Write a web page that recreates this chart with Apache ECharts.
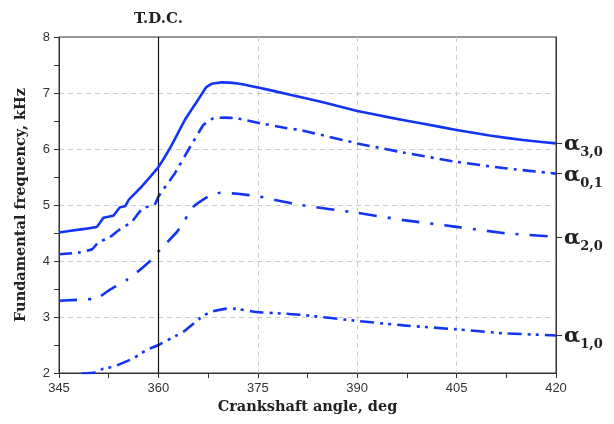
<!DOCTYPE html>
<html>
<head>
<meta charset="utf-8">
<script src="https://cdn.jsdelivr.net/npm/echarts@6/dist/echarts.min.js"></script>
<style>
  html, body { margin: 0; padding: 0; background: #fff; }
  #chart { width: 614px; height: 424px; }
</style>
</head>
<body>
<div id="chart"></div>
<script>
// crankshaft angle (deg) / fundamental frequency (kHz) for each mode
const a30Angle = [345, 348, 350.7, 351.7, 353.2, 354.2, 355, 355.5, 357, 358, 360, 362, 364, 366, 367.2, 368, 369.5, 372, 375, 378, 381.4, 385, 390, 395, 400, 405, 410, 415, 420];
const a30Freq = [4.51, 4.56, 4.61, 4.77, 4.81, 4.96, 4.98, 5.09, 5.27, 5.40, 5.68, 6.07, 6.52, 6.88, 7.10, 7.16, 7.19, 7.17, 7.10, 7.02, 6.93, 6.83, 6.68, 6.56, 6.45, 6.34, 6.24, 6.16, 6.10];

const a01Angle = [345, 348, 350, 351, 352.5, 354, 356, 357.5, 359.5, 360, 362.5, 364.8, 366.8, 368.3, 370, 371.8, 375, 379.4, 381.4, 390, 396.4, 405, 412, 420];
const a01Freq = [4.12, 4.15, 4.21, 4.34, 4.41, 4.55, 4.70, 4.93, 5.02, 5.15, 5.57, 6.04, 6.43, 6.55, 6.56, 6.55, 6.47, 6.37, 6.34, 6.10, 5.95, 5.77, 5.66, 5.56];

const a20Angle = [345, 350.7, 352.7, 355.2, 357.2, 359.2, 360, 362.8, 365.3, 367.5, 369.3, 372, 375.3, 378, 381.4, 390, 397, 405, 412, 420];
const a20Freq = [3.29, 3.33, 3.49, 3.66, 3.84, 4.05, 4.17, 4.52, 4.97, 5.15, 5.22, 5.20, 5.15, 5.08, 5.00, 4.86, 4.73, 4.61, 4.50, 4.43];

const a10Angle = [348.4, 350.7, 351.7, 353.2, 356.2, 358.2, 360, 363.8, 366.3, 367.8, 370.3, 371.3, 374.8, 378.9, 381.4, 390, 397, 405, 412, 420];
const a10Freq = [1.99, 2.01, 2.08, 2.11, 2.26, 2.41, 2.50, 2.74, 2.98, 3.09, 3.15, 3.15, 3.09, 3.06, 3.04, 2.93, 2.85, 2.78, 2.71, 2.67];

const modeNames = ["3,0", "0,1", "2,0", "1,0"];
const tdcAngle = 360;

const blue = "#1234f5";
const serif = "DejaVu Serif";

const pairs = (xs, ys) => xs.map((x, i) => [x, ys[i]]);
const endValues = [a30Freq, a01Freq, a20Freq, a10Freq].map((a) => a[a.length - 1]);

const chart = echarts.init(document.getElementById("chart"));

const lineSeries = (data, type, z) => ({
  type: "line",
  data: data,
  showSymbol: false,
  smooth: 0.1,
  z: z,
  lineStyle: { color: blue, width: 2.6, type: type },
});

const gridLine = { show: true, showMaxLine: false, showMinLine: false, lineStyle: { color: "#ccc", type: [5, 4] } };

const option = {
  animation: false,
  grid: {
    left: 59, right: 58, top: 37, bottom: 51,
    show: true, borderColor: "#333", borderWidth: 1, backgroundColor: "transparent",
  },
  xAxis: {
    type: "value",
    min: 345, max: 420, interval: 15,
    name: "Crankshaft angle, deg",
    nameLocation: "middle",
    nameGap: 27,
    nameTextStyle: { fontFamily: serif, fontWeight: "bold", fontSize: 14.5, color: "#222" },
    axisLine: { show: true, lineStyle: { color: "#333" } },
    axisTick: { show: true, length: 5, lineStyle: { color: "#333" } },
    minorTick: { show: true, splitNumber: 2, length: 5, lineStyle: { color: "#333" } },
    axisLabel: { fontFamily: "Liberation Sans", fontSize: 13, color: "#333", margin: 9 },
    splitLine: gridLine,
  },
  yAxis: [
    {
      type: "value",
      min: 2, max: 8, interval: 1,
      name: "Fundamental frequency, kHz",
      nameLocation: "middle",
      nameGap: 30,
      nameTextStyle: { fontFamily: serif, fontWeight: "bold", fontSize: 14.5, color: "#222" },
      axisLine: { show: true, lineStyle: { color: "#333" } },
      axisTick: { show: true, length: 5, lineStyle: { color: "#333" } },
      minorTick: { show: true, splitNumber: 2, length: 5, lineStyle: { color: "#333" } },
      axisLabel: { fontFamily: "Liberation Sans", fontSize: 13, color: "#333", margin: 9 },
      splitLine: gridLine,
    },
    {
      type: "value",
      position: "right",
      min: 2, max: 8,
      axisLine: { show: true, lineStyle: { color: "#333" } },
      axisTick: { show: true, length: 6, customValues: endValues, lineStyle: { color: "#333" } },
      splitLine: { show: false },
      axisLabel: {
        customValues: endValues,
        margin: 8,
        formatter: (v) => {
          const i = endValues.indexOf(v);
          return i < 0 ? "" : "{a|α}{s|" + modeNames[i] + "}";
        },
        rich: {
          a: { fontFamily: serif, fontWeight: "bold", fontSize: 21, color: "#222", lineHeight: 24, verticalAlign: "bottom" },
          s: { fontFamily: serif, fontWeight: "bold", fontSize: 13, color: "#222", lineHeight: 14, verticalAlign: "bottom", padding: [0, 0, -4, 0] },
        },
      },
    },
  ],
  series: [
    Object.assign(lineSeries(pairs(a30Angle, a30Freq), "solid", 5), {
      markLine: {
        symbol: "none",
        silent: true,
        lineStyle: { color: "#111", width: 1.2, type: "solid" },
        label: {
          show: true,
          position: "end",
          formatter: "T.D.C.",
          fontFamily: serif, fontWeight: "bold", fontSize: 15, color: "#222",
          distance: 10,
        },
        data: [{ xAxis: tdcAngle }],
      },
    }),
    lineSeries(pairs(a01Angle, a01Freq), [13, 6, 3, 6], 4),
    lineSeries(pairs(a20Angle, a20Freq), [18, 11, 3, 11], 4),
    lineSeries(pairs(a10Angle, a10Freq), [14, 6, 3, 5, 3, 6], 4),
  ],
};

chart.setOption(option);
</script>
</body>
</html>
